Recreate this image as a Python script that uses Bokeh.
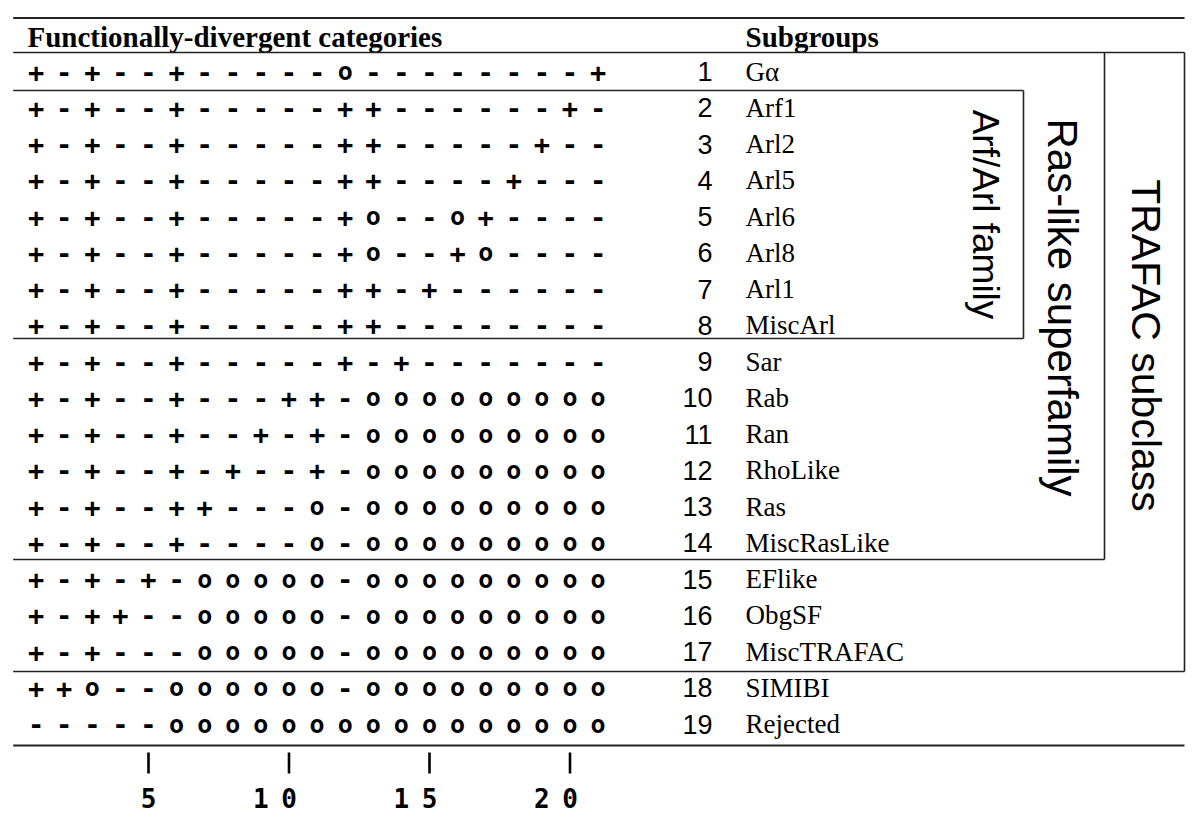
import numpy as np
from bokeh.plotting import figure
from bokeh.models import Range1d
from bokeh.embed import file_html
from bokeh.resources import INLINE
from bokeh.core.properties import value

# ---------------- data ----------------
subgroups = ["Gα", "Arf1", "Arl2", "Arl5", "Arl6", "Arl8", "Arl1", "MiscArl",
             "Sar", "Rab", "Ran", "RhoLike", "Ras", "MiscRasLike", "EFlike",
             "ObgSF", "MiscTRAFAC", "SIMIBI", "Rejected"]
patterns = [
    "+-+--+-----o--------+",
    "+-+--+-----++------+-",
    "+-+--+-----++-----+--",
    "+-+--+-----++----+---",
    "+-+--+-----+o--o+----",
    "+-+--+-----+o--+o----",
    "+-+--+-----++-+------",
    "+-+--+-----++--------",
    "+-+--+-----+-+-------",
    "+-+--+---++-ooooooooo",
    "+-+--+--+-+-ooooooooo",
    "+-+--+-+--+-ooooooooo",
    "+-+--++---o-ooooooooo",
    "+-+--+----o-ooooooooo",
    "+-+-+-ooooo-ooooooooo",
    "+-++--ooooo-ooooooooo",
    "+-+---ooooo-ooooooooo",
    "++o--oooooo-ooooooooo",
    "-----oooooooooooooooo",
]
tick_cols = [5, 10, 15, 20]
tick_labels = ["5", "10", "15", "20"]
left_header = "Functionally-divergent categories"
right_header = "Subgroups"
group_names = ["Arf/Arl family", "Ras-like superfamily", "TRAFAC subclass"]
separator_after = [1, 8, 14, 17]

# ---------------- layout (page pixels) ----------------
X0, DX = 35.6, 28.1        # column 1 position, column pitch
Y0, DY = 71.0, 36.25       # row 1 position, row pitch
PX_L, PX_T, W, H = 0, 0, 1200, 819

def cx(px):
    return (px - X0) / DX + 1

def ry(py):
    return (py - Y0) / DY + 1

p = figure(width=W, height=H, output_backend="svg", toolbar_location=None,
           x_range=Range1d(cx(PX_L), cx(PX_L + W)),
           y_range=Range1d(ry(PX_T + H), ry(PX_T)),
           x_axis_type=None, y_axis_type=None, min_border=0)
p.xgrid.visible = False
p.ygrid.visible = False
p.outline_line_color = None
p.background_fill_color = "white"
p.border_fill_color = "white"

# symbols
data = {"+": ([], []), "-": ([], []), "o": ([], [])}
for r, pat in enumerate(patterns, start=1):
    for c, s in enumerate(pat, start=1):
        data[s][0].append(c)
        data[s][1].append(r)
for s, size in [("+", "27px"), ("-", "27px"), ("o", "25px")]:
    xs, ys = data[s]
    p.text(x=xs, y=ys, text=[s] * len(xs), text_font=value("DejaVu Sans Mono"),
           text_font_size=size, text_font_style="bold", text_align="center",
           text_baseline="middle", text_color="black")

rows = list(range(1, len(subgroups) + 1))
p.text(x=[cx(712)] * len(rows), y=rows,
       text=[str(r) for r in rows], text_font=value("Liberation Sans"),
       text_font_size="27px", text_align="right", text_baseline="middle",
       text_color="black")
p.text(x=[cx(745)] * len(rows), y=rows, text=subgroups,
       text_font=value("Liberation Serif"), text_font_size="27px",
       text_align="left", text_baseline="middle", text_color="black")

p.text(x=[cx(27)], y=[ry(36)], text=[left_header], text_font=value("Liberation Serif"),
       text_font_size="29px", text_font_style="bold", text_align="left",
       text_baseline="middle", text_color="black")
p.text(x=[cx(745)], y=[ry(36)], text=[right_header], text_font=value("Liberation Serif"),
       text_font_size="29px", text_font_style="bold", text_align="left",
       text_baseline="middle", text_color="black")

gx = [985, 1062, 1145]
gy = [214, 307, 345]
gs = ["37px", "42px", "41px"]
for name, x, y, s in zip(group_names, gx, gy, gs):
    p.text(x=[cx(x)], y=[ry(y)], text=[name], angle=-np.pi / 2,
           text_font=value("Liberation Sans"), text_font_size=s,
           text_align="center", text_baseline="middle", text_color="black")

LEFT = 12.7
ARF_R, RAS_R, TRA_R = 1023, 1104, 1184
sep_y = {1: 90, 8: 338, 14: 559, 17: 671}
sep_r = {1: ARF_R, 8: ARF_R, 14: RAS_R, 17: TRA_R}
x0s, y0s, x1s, y1s, lw = [], [], [], [], []
def seg(a, b, c, d, w=1.6):
    x0s.append(cx(a)); y0s.append(ry(b)); x1s.append(cx(c)); y1s.append(ry(d)); lw.append(w)

seg(LEFT, 17.5, TRA_R, 17.5, 2.0)
seg(LEFT, 52, TRA_R, 52, 1.6)
for k in separator_after:
    seg(LEFT, sep_y[k], sep_r[k], sep_y[k])
seg(ARF_R, sep_y[1], ARF_R, sep_y[8])
seg(RAS_R, 52, RAS_R, sep_y[14])
seg(TRA_R, 52, TRA_R, sep_y[17])
seg(LEFT, 745, TRA_R, 745, 2.0)
p.segment(x0=x0s, y0=y0s, x1=x1s, y1=y1s, line_color="#222222", line_width=lw)

p.segment(x0=tick_cols, x1=tick_cols, y0=[ry(752)] * 4, y1=[ry(773)] * 4,
          line_color="black", line_width=2.6)
lx, lt = [], []
for c, lab in zip(tick_cols, tick_labels):
    for i, d in enumerate(lab):
        lx.append(c - (len(lab) - 1 - i))
        lt.append(d)
p.text(x=lx, y=[ry(797)] * len(lx), text=lt, text_font=value("DejaVu Sans Mono"),
       text_font_size="26px", text_font_style="bold", text_align="center",
       text_baseline="middle", text_color="black")

open("out.html", "w").write(file_html(p, INLINE))
